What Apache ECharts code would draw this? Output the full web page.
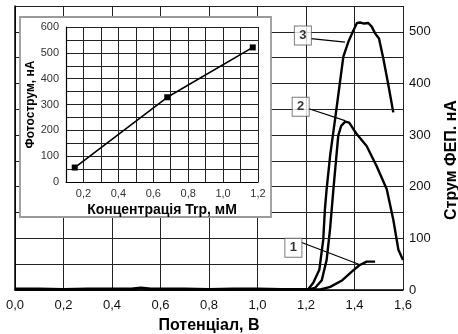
<!DOCTYPE html>
<html>
<head>
<meta charset="utf-8">
<script src="https://cdn.jsdelivr.net/npm/echarts@6/dist/echarts.min.js"></script>
<style>
  html, body { margin: 0; padding: 0; background: #fff; }
  #chart { width: 458px; height: 334px; }
</style>
</head>
<body>
<div id="chart"></div>
<script>
// Photocurrent of the photoelectric converter vs. potential
const baseline = [[0.0, 2], [0.1, 2], [0.2, 1], [0.3, 2], [0.4, 2], [0.48, 2], [0.52, 4], [0.56, 2], [0.6, 2], [0.7, 2], [0.8, 1], [0.9, 2], [1.0, 2], [1.1, 1], [1.2, 1]];
const curve1 = [[1.2, 1], [1.26, 1], [1.30, 6], [1.35, 19], [1.39, 36], [1.42, 48], [1.45, 55], [1.485, 55]];
const curve2 = [[1.2, 1], [1.22, 2], [1.237, 4], [1.265, 19], [1.285, 58], [1.299, 117], [1.313, 195], [1.333, 299], [1.345, 318], [1.362, 326], [1.378, 324], [1.409, 302], [1.45, 279], [1.491, 240], [1.533, 195], [1.56, 136], [1.581, 78], [1.6, 58]];
const curve3 = [[1.2, 1], [1.21, 2], [1.23, 14], [1.255, 39], [1.271, 97], [1.278, 156], [1.285, 195], [1.30, 262], [1.32, 331], [1.354, 452], [1.375, 481], [1.393, 500], [1.41, 517], [1.423, 518], [1.44, 516], [1.457, 517], [1.471, 510], [1.485, 497], [1.501, 487], [1.519, 448], [1.54, 396], [1.56, 344]];

// Curve labels and their leader lines
const curveNames = ['1', '2', '3'];
const namePos = [[1.148, 82], [1.178, 355], [1.187, 493]];
const leaders = [
  [[1.182, 92], [1.423, 49]],
  [[1.212, 351], [1.361, 328]],
  [[1.221, 487], [1.361, 480]]
];

// Inset: photocurrent vs. tryptophan concentration
const concTrp = [0.15, 0.68, 1.17];
const photoCurrent = [56, 328, 521];

const FONT = 'Liberation Sans, Arial, sans-serif';
const GRIDLINE = { show: true, lineStyle: { color: '#222', width: 1 } };

const chart = echarts.init(document.getElementById('chart'), null, { renderer: 'canvas' });

const leaderSeries = leaders.map(seg => ({
  type: 'line', xAxisIndex: 0, yAxisIndex: 0, data: seg,
  symbol: 'none', silent: true, z: 4,
  lineStyle: { color: '#000', width: 1.2 }
}));

chart.setOption({
  animation: false,
  backgroundColor: '#fff',
  textStyle: { fontFamily: FONT },
  grid: [
    { left: 15, right: 55, top: 6, bottom: 44, containLabel: false, outerBoundsMode: 'none' },
    { left: 66, right: 200, top: 27, bottom: 152, z: 6, containLabel: false, outerBoundsMode: 'none' }
  ],
  graphic: [{
    type: 'rect', z: 5, zlevel: 0,
    shape: { x: 20, y: 17, width: 251, height: 200 },
    style: { fill: '#fff', stroke: '#9a9a9a', lineWidth: 1.8 }
  }],
  xAxis: [{
    gridIndex: 0, type: 'value', min: 0, max: 1.6, interval: 0.2,
    name: 'Потенціал, В', nameLocation: 'middle', nameGap: 28,
    nameTextStyle: { fontFamily: FONT, fontSize: 16, fontWeight: 'bold', color: '#000' },
    axisLine: { show: true, lineStyle: { color: '#000', width: 1.5 } },
    axisTick: { show: false },
    axisLabel: { fontFamily: FONT, fontSize: 13, color: '#111', margin: 9,
      formatter: v => v.toFixed(1).replace('.', ',') },
    splitLine: GRIDLINE
  }, {
    gridIndex: 1, type: 'value', min: 0.1, max: 1.2, interval: 0.1, z: 7,
    name: 'Концентрація Trp, мМ', nameLocation: 'middle', nameGap: 21,
    nameTextStyle: { fontFamily: FONT, fontSize: 14, fontWeight: 'bold', color: '#000' },
    axisLine: { show: true, lineStyle: { color: '#000', width: 1.2 } },
    axisTick: { show: false },
    axisLabel: { fontFamily: FONT, fontSize: 11, color: '#333', margin: 6,
      formatter: v => (Math.round(v * 10) % 2 === 0 ? v.toFixed(1).replace('.', ',') : '') },
    splitLine: GRIDLINE
  }],
  yAxis: [{
    gridIndex: 0, type: 'value', min: 0, max: 550, interval: 50, position: 'right',
    name: 'Струм ФЕП. нА', nameLocation: 'middle', nameGap: 41,
    nameTextStyle: { fontFamily: FONT, fontSize: 16, fontWeight: 'bold', color: '#000',
      padding: [0, 24, 0, 0] },
    axisLine: { show: true, lineStyle: { color: '#000', width: 1.5 } },
    axisTick: { show: false },
    axisLabel: { fontFamily: FONT, fontSize: 13, color: '#111', margin: 6,
      formatter: v => (v % 100 === 0 ? String(v) : '') },
    splitLine: GRIDLINE
  }, {
    gridIndex: 1, type: 'value', min: 0, max: 600, interval: 50, z: 7,
    name: 'Фотострум, нА', nameLocation: 'middle', nameGap: 28,
    nameTextStyle: { fontFamily: FONT, fontSize: 12, fontWeight: 'bold', color: '#000' },
    axisLine: { show: true, lineStyle: { color: '#000', width: 1.2 } },
    axisTick: { show: false },
    axisLabel: { fontFamily: FONT, fontSize: 11, color: '#333', margin: 7,
      formatter: v => (v % 100 === 0 ? String(v) : '') },
    splitLine: GRIDLINE
  }],
  series: [
    { type: 'line', data: baseline, symbol: 'none', z: 3, lineStyle: { color: '#000', width: 3 } },
    { type: 'line', data: curve1, symbol: 'none', z: 3, lineStyle: { color: '#000', width: 2.4 } },
    { type: 'line', data: curve2, symbol: 'none', z: 3, lineStyle: { color: '#000', width: 2.4 } },
    { type: 'line', data: curve3, symbol: 'none', z: 3, lineStyle: { color: '#000', width: 2.4 } },
    ...leaderSeries,
    {
      type: 'scatter', z: 5, silent: true,
      data: namePos.map((p, i) => ({ value: p, name: curveNames[i] })),
      symbol: 'rect', symbolSize: [17, 19],
      itemStyle: { color: '#fff', borderColor: '#555', borderWidth: 1 },
      label: { show: true, position: 'inside', formatter: p => p.name,
        fontFamily: FONT, fontSize: 13, fontWeight: 'bold', color: '#000' }
    },
    {
      type: 'line', xAxisIndex: 1, yAxisIndex: 1, z: 8,
      data: concTrp.map((c, i) => [c, photoCurrent[i]]),
      symbol: 'rect', symbolSize: 6, showSymbol: true,
      itemStyle: { color: '#000' },
      lineStyle: { color: '#000', width: 1.6 }
    }
  ]
});
</script>
</body>
</html>
